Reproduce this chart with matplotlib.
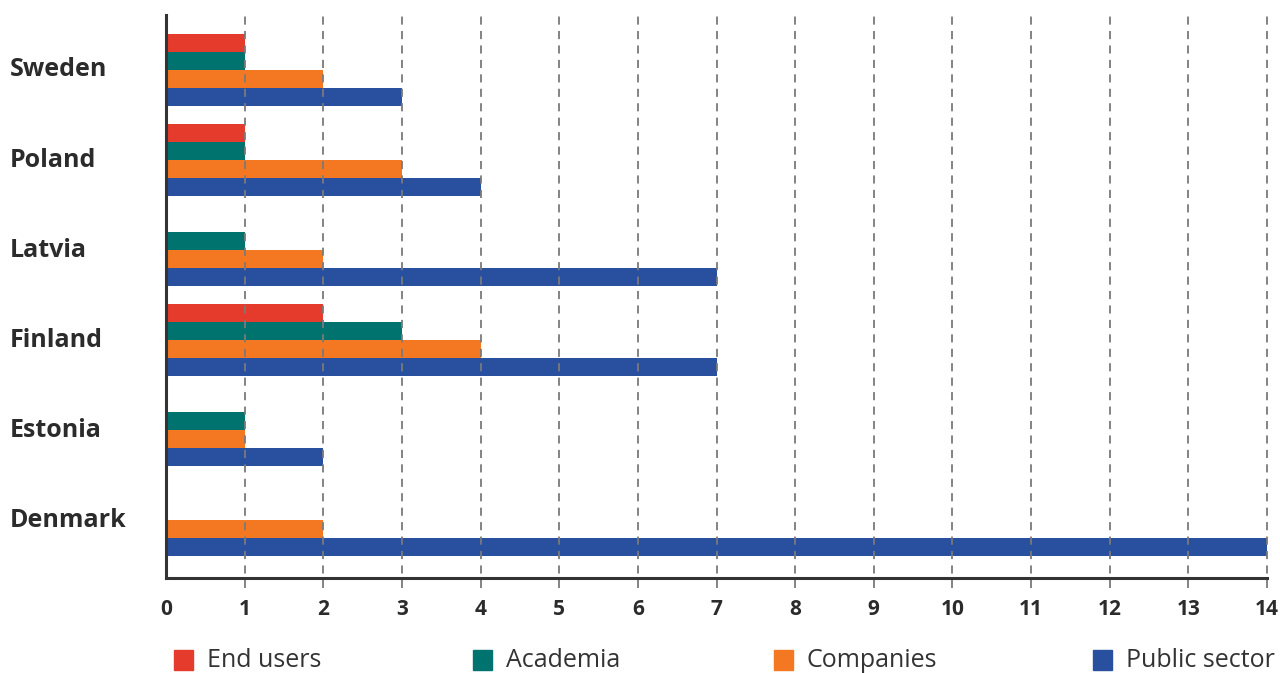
import matplotlib
matplotlib.use("Agg")
import matplotlib.pyplot as plt
import numpy as np
from matplotlib.patches import Rectangle

countries = ["Denmark", "Estonia", "Finland", "Latvia", "Poland", "Sweden"]
end_users = [0, 0, 2, 0, 1, 1]
academia = [0, 1, 3, 1, 1, 1]
companies = [2, 1, 4, 2, 3, 2]
public_sector = [14, 2, 7, 7, 4, 3]
series_names = ["End users", "Academia", "Companies", "Public sector"]
colors = ["#E53B2C", "#00736F", "#F47721", "#28509E"]
xticks = list(range(0, 15))

plt.rcParams['font.family'] = ['Open Sans', 'DejaVu Sans']
fig = plt.figure(figsize=(12.8, 6.73), dpi=100)
ax = fig.add_axes([166/1280, 1-578/673, (1267-166)/1280, (578-15)/673])

y = np.arange(len(countries))
offsets = [0.3, 0.1, -0.1, -0.3]
for vals, off, c in zip([end_users, academia, companies, public_sector], offsets, colors):
    v = np.array(vals, dtype=float)
    mask = v > 0
    ax.barh(y[mask] + off, v[mask], height=0.2, color=c, zorder=2)

ax.set_xlim(0, 14)
ax.set_ylim(-0.644, 5.611)
for s in ["top", "right"]:
    ax.spines[s].set_visible(False)
for s in ["left", "bottom"]:
    ax.spines[s].set_color("#333333")
    ax.spines[s].set_linewidth(2.2)
    ax.spines[s].set_zorder(4)

for xv in xticks[1:]:
    ax.axvline(xv, ymin=-10/563, ymax=1, color="#7a7a7a", lw=1.3,
               linestyle=(0, (4.5, 3.5)), zorder=3, clip_on=False)

ax.set_xticks(xticks)
ax.set_xticklabels([str(t) for t in xticks], fontsize=15, fontweight="bold", color="#2b2b2b")
ax.tick_params(axis="x", length=0, pad=15)
ax.set_yticks(y)
ax.set_yticklabels(countries, fontsize=18, fontweight="bold", color="#2b2b2b", ha="left",
                   va="center")
ax.tick_params(axis="y", length=0, pad=(166-10)*0.72)

# legend
leg_x = [174, 473, 774, 1093]
for lx, name, c in zip(leg_x, series_names, colors):
    fig.patches.append(Rectangle((lx/1280, 1-670/673), 19/1280, 20/673,
                                 transform=fig.transFigure, color=c, figure=fig))
    fig.text((lx+33)/1280, 1-667/673, name, fontsize=18, color="#333333",
             va="baseline", ha="left")

fig.savefig("out.png", dpi=100)
